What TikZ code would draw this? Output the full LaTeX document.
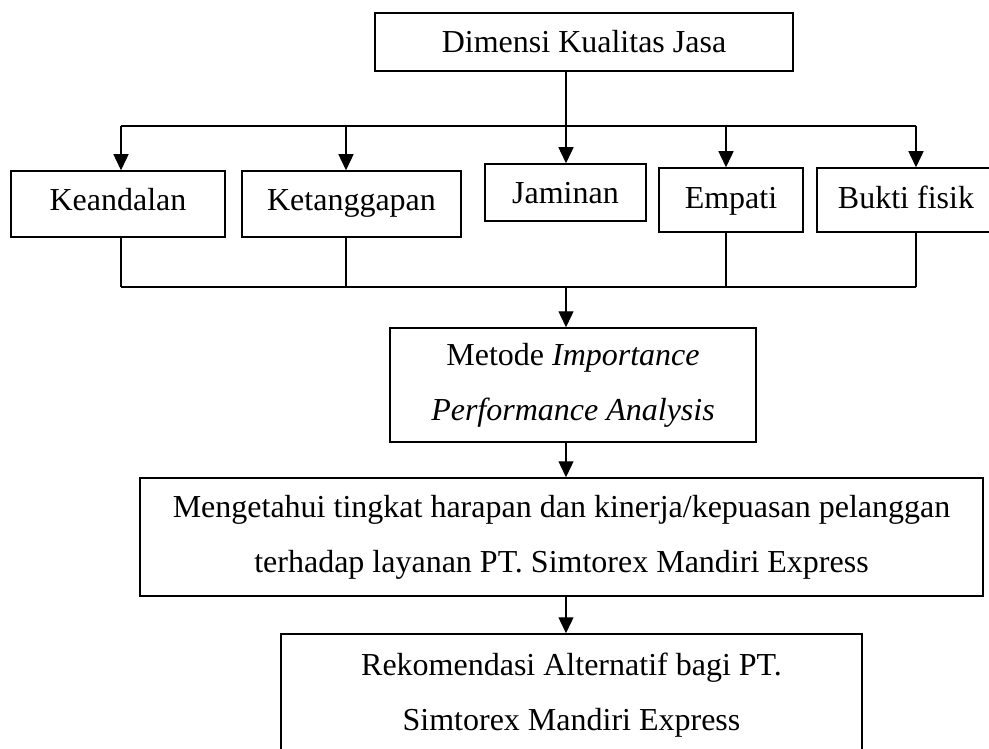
\documentclass[tikz,border=0pt]{standalone}
\usepackage{fontspec}
\setmainfont{Liberation Serif}
\usetikzlibrary{arrows.meta}
\begin{document}
\begin{tikzpicture}[x=1pt,y=-1pt,
  box/.style={draw, line width=1.5pt, inner sep=0pt, font=\fontsize{32}{55}\selectfont},
  mbox/.style={box, align=center},
  conn/.style={line width=1.4pt},
  arr/.style={conn, -{Triangle[length=16pt,width=15pt]}}]
\useasboundingbox (0,0) rectangle (989,749);
\clip (0,0) rectangle (989,749);

\node[box, minimum width=418pt, minimum height=58pt, text height=22pt, text depth=0pt] (dim) at (584,42) {Dimensi Kualitas Jasa};

\node[box, minimum width=214pt, minimum height=66pt, text height=22pt, text depth=8pt] (kea) at (118,204) {Keandalan};
\node[box, minimum width=219pt, minimum height=66pt, text height=22pt, text depth=8pt] (ket) at (351.5,204) {Ketanggapan};
\node[box, minimum width=161pt, minimum height=57pt, text height=22pt, text depth=0pt] (jam) at (565.5,192.5) {Jaminan};
\node[box, minimum width=144pt, minimum height=64pt, text height=22pt, text depth=6pt] (emp) at (731,200) {Empati};
\node[box, minimum width=178pt, minimum height=64pt, text height=22pt, text depth=6pt] (buk) at (906,200) {Bukti fisik};

\node[mbox, minimum width=366pt, minimum height=114pt] (met) at (573,385) {Metode \textit{Importance}\\\textit{Performance Analysis}};
\node[mbox, minimum width=843pt, minimum height=118pt] (men) at (561.5,537) {Mengetahui tingkat harapan dan kinerja/kepuasan pelanggan\\terhadap layanan PT. Simtorex Mandiri Express};
\node[mbox, minimum width=581pt, minimum height=122pt] (rek) at (571.5,695) {Rekomendasi Alternatif bagi PT.\\Simtorex Mandiri Express};

% top distribution
\coordinate (jl) at (121,126);
\coordinate (j2) at (346,126);
\coordinate (jt) at (566,126);
\coordinate (j4) at (726,126);
\coordinate (jr) at (916,126);
\draw[conn] (dim.south -| jt) -- (jt);
\draw[conn] (jl) -- (jr);
\draw[arr] (jl) -- (jl |- kea.north);
\draw[arr] (j2) -- (j2 |- ket.north);
\draw[arr] (jt) -- (jt |- jam.north);
\draw[arr] (j4) -- (j4 |- emp.north);
\draw[arr] (jr) -- (jr |- buk.north);

% bottom collection
\coordinate (bl) at (121,287);
\coordinate (b2) at (346,287);
\coordinate (bm) at (566,287);
\coordinate (b4) at (726,287);
\coordinate (br) at (916,287);
\draw[conn] (bl |- kea.south) -- (bl);
\draw[conn] (b2 |- ket.south) -- (b2);
\draw[conn] (b4 |- emp.south) -- (b4);
\draw[conn] (br |- buk.south) -- (br);
\draw[conn] (bl) -- (br);

\draw[arr] (bm) -- (bm |- met.north);
\draw[arr] (met.south -| bm) -- (bm |- men.north);
\draw[arr] (men.south -| bm) -- (bm |- rek.north);
\end{tikzpicture}
\end{document}
